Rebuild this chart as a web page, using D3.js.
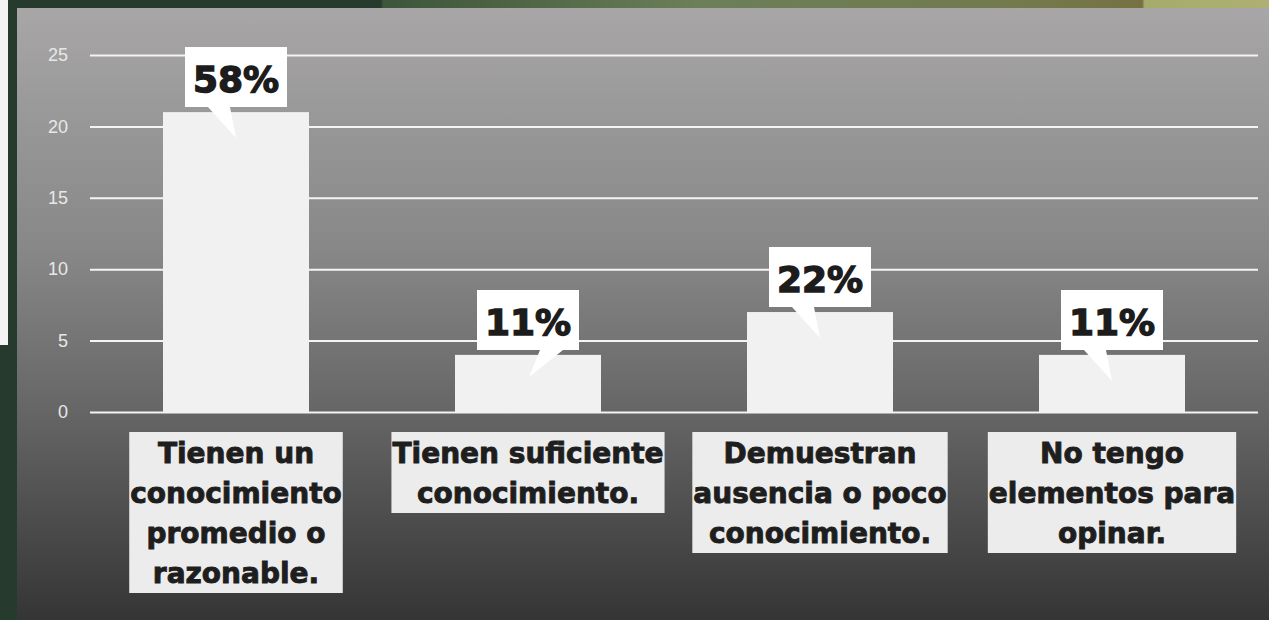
<!DOCTYPE html>
<html>
<head>
<meta charset="utf-8">
<script src="https://cdn.jsdelivr.net/npm/d3@7"></script>
<style>
  body { margin: 0; background: #263a2e; overflow: hidden; }
  .tick text { font-family: 'Liberation Sans Narrow', 'Liberation Sans', Arial, sans-serif; font-size: 18px; fill: #e8e8e8; }
  .tick line { stroke: #f4f4f4; stroke-width: 2; }
  .pct { font-family: 'DejaVu Sans', sans-serif; font-weight: bold; font-size: 36px; fill: #1c1c1c; stroke: #1c1c1c; stroke-width: 1.4; }
  .cat { font-family: 'DejaVu Sans', sans-serif; font-weight: bold; font-size: 28px; fill: #1e1e1e; stroke: #1e1e1e; stroke-width: 0.9; }
</style>
</head>
<body>
<div id="chart"></div>
<script>
const categories = ['promedio', 'suficiente', 'ausencia', 'sin elementos'];
const categoryLines = [
  ['Tienen un', 'conocimiento', 'promedio o', 'razonable.'],
  ['Tienen suficiente', 'conocimiento.'],
  ['Demuestran', 'ausencia o poco', 'conocimiento.'],
  ['No tengo', 'elementos para', 'opinar.']
];
const values = [21, 4, 7, 4];
const percentLabels = ['58%', '11%', '22%', '11%'];
const yTicks = [0, 5, 10, 15, 20, 25];
// which side of the tip the callout pointer starts from
const pointerSide = ['left', 'right', 'left', 'left'];

const width = 1269, height = 620;
const margin = {top: 55, right: 11, bottom: 208, left: 90};

const svg = d3.select('#chart').append('svg')
  .attr('width', width)
  .attr('height', height);

const defs = svg.append('defs');

const topGrad = defs.append('linearGradient').attr('id', 'topstrip');
[[0, '#263a2e'], [0.3, '#263a2e'], [0.302, '#3c553b'], [0.4, '#4e6343'],
 [0.55, '#6b7f5a'], [0.8, '#737a4c'], [0.9, '#767143'], [0.902, '#a6ab6b'], [1, '#adb072']]
  .forEach(([o, c]) => topGrad.append('stop').attr('offset', o).attr('stop-color', c));

const panelGrad = defs.append('linearGradient').attr('id', 'panel')
  .attr('x1', 0).attr('x2', 0).attr('y1', 0).attr('y2', 1);
[[0, '#a8a6a7'], [0.4, '#878787'], [0.65, '#676767'], [1, '#353535']]
  .forEach(([o, c]) => panelGrad.append('stop').attr('offset', o).attr('stop-color', c));

// background pieces
svg.append('rect').attr('width', width).attr('height', 8).attr('fill', 'url(#topstrip)');
svg.append('rect').attr('width', 8).attr('height', 345).attr('fill', '#f4f4f4');
svg.append('rect').attr('x', 17).attr('y', 8)
  .attr('width', width - 17).attr('height', height - 8)
  .attr('fill', 'url(#panel)');

const x = d3.scaleBand()
  .domain(categories)
  .range([margin.left, width - margin.right])
  .paddingInner(0.5)
  .paddingOuter(0.25);

const y = d3.scaleLinear()
  .domain([0, 25])
  .range([height - margin.bottom, margin.top]);

const axis = svg.append('g')
  .attr('transform', `translate(${margin.left},0)`)
  .call(d3.axisLeft(y)
    .tickValues(yTicks)
    .tickSize(-(width - margin.right - margin.left))
    .tickPadding(22));
axis.select('.domain').remove();

// bars
svg.append('g').selectAll('rect')
  .data(values)
  .join('rect')
  .attr('x', (d, i) => x(categories[i]))
  .attr('y', d => y(d))
  .attr('width', x.bandwidth())
  .attr('height', d => y(0) - y(d))
  .attr('fill', '#f1f1f1');

// percentage callouts
const boxW = 102, boxH = 60, gap = 5;
const callout = svg.append('g').selectAll('g')
  .data(values)
  .join('g')
  .attr('transform', (d, i) => `translate(${x(categories[i]) + x.bandwidth() / 2},${y(d) - gap - boxH})`);

callout.append('path')
  .attr('fill', '#ffffff')
  .attr('d', (d, i) => pointerSide[i] === 'left'
    ? `M-${boxW / 2},0 H${boxW / 2} V${boxH} H-6 L0,${boxH + 31} L-28,${boxH} H-${boxW / 2} Z`
    : `M-${boxW / 2},0 H${boxW / 2} V${boxH} H35 L1,${boxH + 27} L12,${boxH} H-${boxW / 2} Z`);

callout.append('text')
  .attr('class', 'pct')
  .attr('text-anchor', 'middle')
  .attr('y', 45)
  .text((d, i) => percentLabels[i]);

// category label boxes
const lineH = 40, labelTop = 432;
const label = svg.append('g').selectAll('g')
  .data(categoryLines)
  .join('g')
  .attr('transform', (d, i) => `translate(${x(categories[i]) + x.bandwidth() / 2},${labelTop})`);

const labelRect = label.append('rect')
  .attr('fill', '#ececec')
  .attr('height', d => d.length * lineH + 1)
  .attr('y', 0);

label.selectAll('text')
  .data(d => d)
  .join('text')
  .attr('class', 'cat')
  .attr('text-anchor', 'middle')
  .attr('y', (d, j) => 31 + j * lineH)
  .text(d => d);

labelRect.each(function() {
  const g = d3.select(this.parentNode);
  const w = d3.max(g.selectAll('text').nodes(), n => n.getComputedTextLength()) + 2;
  d3.select(this).attr('x', -w / 2).attr('width', w);
});
</script>
</body>
</html>
